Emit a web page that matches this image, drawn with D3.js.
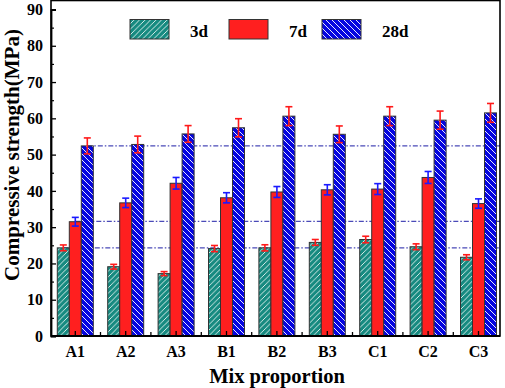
<!DOCTYPE html>
<html><head><meta charset="utf-8">
<script src="https://cdn.jsdelivr.net/npm/d3@7"></script>
<style>
html,body{margin:0;padding:0;background:#fff;}
text{font-family:"Liberation Serif","Times New Roman",serif;font-weight:bold;fill:#000;}
</style></head>
<body>
<svg id="chart" width="505" height="388"></svg>
<script>
const categories = ["A1","A2","A3","B1","B2","B3","C1","C2","C3"];
const seriesNames = ["3d","7d","28d"];
const values3d  = [24.3,19.1,17.2,24.1,24.3,25.8,26.6,24.6,21.7];
const errors3d  = [0.8,0.65,0.55,0.85,0.85,0.8,0.9,0.8,0.7];
const values7d  = [31.5,36.7,42.1,38.1,39.7,40.3,40.5,43.7,36.5];
const errors7d  = [1.2,1.3,1.6,1.4,1.5,1.4,1.5,1.65,1.3];
const values28d = [52.4,52.8,55.7,57.4,60.6,55.6,60.6,59.5,61.5];
const errors28d = [2.2,2.3,2.3,2.5,2.6,2.3,2.6,2.5,2.6];
const referenceLines = [24.3,31.6,52.4];
const yTicks = [0,10,20,30,40,50,60,70,80,90];
const yMinorTicks = [5,15,25,35,45,55,65,75,85];

(function(){
const FONT = '"Liberation Serif","Times New Roman",serif';
const series = [
  {name:"3d", values:values3d, errors:errors3d, fill:"url(#hatch3d)", err:"#ff1a1a"},
  {name:"7d", values:values7d, errors:errors7d, fill:"#ff1f1f", err:"#1a1aff"},
  {name:"28d", values:values28d, errors:errors28d, fill:"url(#hatch28d)", err:"#ff1a1a"}
];

const svg = d3.select("#chart");
const pLeft = 51, pRight = 500, pTop = 0.5, pBottom = 336;

const x = d3.scaleBand().domain(categories).range([50.1, 503.7]).padding(0);
const groupW = 36;
const xs = d3.scaleBand().domain(seriesNames).range([0, groupW]).padding(0);
const y = d3.scaleLinear().domain([0,90]).range([pBottom, 9.5]);

const defs = svg.append("defs");
const p1 = defs.append("pattern").attr("id","hatch3d").attr("patternUnits","userSpaceOnUse")
  .attr("width",5.5).attr("height",5.5);
p1.append("rect").attr("width",5.5).attr("height",5.5).attr("fill","#168a80");
p1.append("path").attr("d","M0,5.5L5.5,0M-1,1L1,-1M4.5,6.5L6.5,4.5")
  .attr("stroke","#e8f4f2").attr("stroke-width",0.9);
const p2 = defs.append("pattern").attr("id","hatch28d").attr("patternUnits","userSpaceOnUse")
  .attr("width",6).attr("height",6);
p2.append("rect").attr("width",6).attr("height",6).attr("fill","#0505e0");
p2.append("path").attr("d","M0,0L6,6M-1,5L1,7M5,-1L7,1")
  .attr("stroke","#ffffff").attr("stroke-width",0.9);

referenceLines.forEach((v,i) => {
  const startX = x(categories[0]) + x.bandwidth()/2 - groupW/2 + xs(seriesNames[i]) + xs.bandwidth()/2;
  svg.append("line")
    .attr("x1", startX).attr("x2", pRight)
    .attr("y1", y(v)).attr("y2", y(v))
    .attr("stroke","#4a4ab8").attr("stroke-width",1.1)
    .attr("stroke-dasharray","5,2,1.5,2");
});

series.forEach(s => {
  const g = svg.append("g");
  categories.forEach((c,i) => {
    const bx = x(c) + x.bandwidth()/2 - groupW/2 + xs(s.name);
    g.append("rect")
      .attr("x", bx).attr("y", y(s.values[i]))
      .attr("width", xs.bandwidth()).attr("height", y(0) - y(s.values[i]))
      .attr("fill", s.fill).attr("stroke","#333").attr("stroke-width",1);
  });
});
series.forEach(s => {
  categories.forEach((c,i) => {
    const cx = x(c) + x.bandwidth()/2 - groupW/2 + xs(s.name) + xs.bandwidth()/2;
    const y1 = y(s.values[i] + s.errors[i]), y2 = y(s.values[i] - s.errors[i]);
    const g = svg.append("g").attr("stroke", s.err).attr("stroke-width",1.6);
    g.append("line").attr("x1",cx).attr("x2",cx).attr("y1",y1).attr("y2",y2);
    g.append("line").attr("x1",cx-3.5).attr("x2",cx+3.5).attr("y1",y1).attr("y2",y1);
    g.append("line").attr("x1",cx-3.5).attr("x2",cx+3.5).attr("y1",y2).attr("y2",y2);
  });
});

svg.append("rect").attr("x",pLeft).attr("y",pTop).attr("width",pRight-pLeft).attr("height",pBottom-pTop)
  .attr("fill","none").attr("stroke","#000").attr("stroke-width",1.6);

const yAxis = d3.axisLeft(y).tickValues(yTicks).tickSize(-5).tickPadding(8).tickFormat(d3.format("d"));
const yg = svg.append("g").attr("transform",`translate(${pLeft},0)`).call(yAxis);
yg.select(".domain").attr("stroke","#000").attr("stroke-width",1.8);
yg.selectAll(".tick line").attr("stroke","#000").attr("stroke-width",1.3);
yg.selectAll(".tick text").attr("font-size",16).style("font-family",FONT).attr("font-weight","bold");
const ygm = svg.append("g").attr("transform",`translate(${pLeft},0)`)
  .call(d3.axisLeft(y).tickValues(yMinorTicks).tickSize(-3).tickFormat(""));
ygm.select(".domain").remove();
ygm.selectAll(".tick line").attr("stroke","#000").attr("stroke-width",1.2);

const xAxis = d3.axisBottom(x).tickSize(-5).tickPadding(10);
const xg = svg.append("g").attr("transform",`translate(0,${pBottom})`).call(xAxis);
xg.select(".domain").remove();
xg.selectAll(".tick line").attr("stroke","#000").attr("stroke-width",1.3);
xg.selectAll(".tick text").attr("font-size",16).style("font-family",FONT).attr("font-weight","bold");
const xb = svg.append("g");
categories.slice(1).forEach(c => {
  xb.append("line").attr("x1",x(c)).attr("x2",x(c)).attr("y1",pBottom).attr("y2",pBottom-4)
    .attr("stroke","#000").attr("stroke-width",1.3);
});
svg.append("line").attr("x1",pLeft).attr("x2",pRight).attr("y1",pBottom).attr("y2",pBottom)
  .attr("stroke","#000").attr("stroke-width",1.8);

svg.append("text").attr("x",277).attr("y",383).attr("text-anchor","middle").style("font-family",FONT)
  .attr("font-size",20.5).text("Mix proportion");
svg.append("text").attr("transform",`translate(19,155) rotate(-90)`).style("font-family",FONT)
  .attr("text-anchor","middle").attr("font-size",21).text("Compressive strength(MPa)");

const legendX = [130, 229, 322];
series.forEach((s,i) => {
  svg.append("rect").attr("x",legendX[i]).attr("y",19.5).attr("width",39).attr("height",19.5)
    .attr("fill",s.fill).attr("stroke","#333").attr("stroke-width",1);
  svg.append("text").attr("x",legendX[i]+60).attr("y",36.5).style("font-family",FONT)
    .attr("font-size",17).text(s.name);
});
})();
</script>
</body></html>
